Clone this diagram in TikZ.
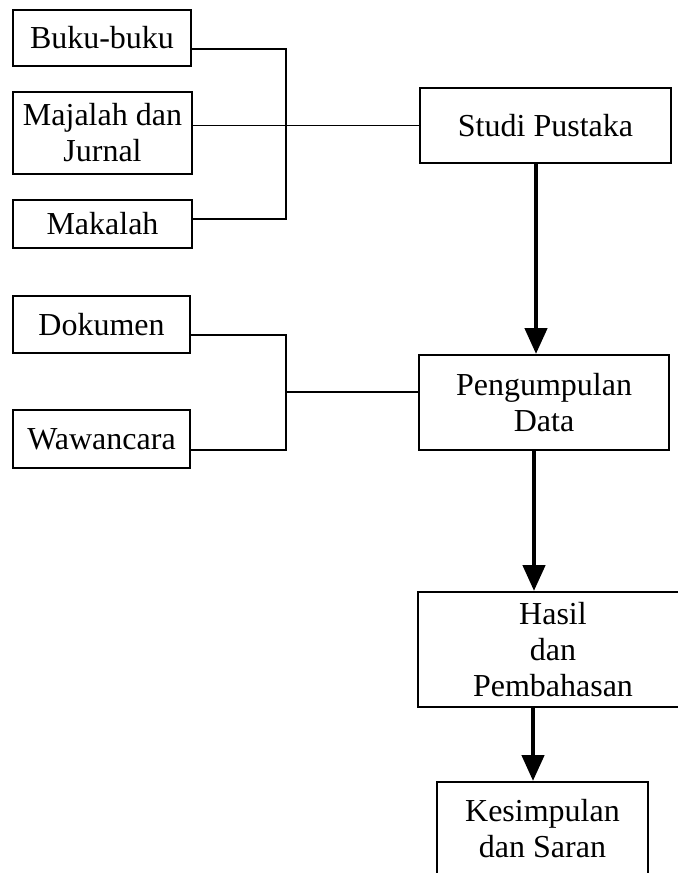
\documentclass[tikz,border=0pt]{standalone}
\usepackage{fontspec}
\setmainfont{Liberation Serif}
\usetikzlibrary{arrows.meta}

\begin{document}
\begin{tikzpicture}[x=0.5pt,y=-0.5pt,
    box/.style={draw,line width=1pt,align=center,inner sep=0pt,font=\fontsize{16}{18}\selectfont},
    link/.style={line width=0.8pt},
    flow/.style={line width=2.3pt,-{Triangle[width=11pt,length=13pt]}}]
  \useasboundingbox (0,0) rectangle (678,873);
  % sumber studi pustaka
  \node[box,minimum width=89pt,minimum height=28pt] (buku) at (102,38) {Buku-buku};
  \node[box,minimum width=89.5pt,minimum height=41pt] (majalah) at (102.5,133) {Majalah dan\\Jurnal};
  \node[box,minimum width=89.5pt,minimum height=24pt] (makalah) at (102.5,224) {Makalah};
  % sumber data
  \node[box,minimum width=88.5pt,minimum height=28.5pt] (dokumen) at (101.5,324.5) {Dokumen};
  \node[box,minimum width=88.5pt,minimum height=29pt] (wawancara) at (101.5,439) {Wawancara};
  % alur penelitian
  \node[box,minimum width=125.5pt,minimum height=37.5pt] (studi) at (545.5,125.5) {Studi Pustaka};
  \node[box,minimum width=125pt,minimum height=47.5pt] (pengumpulan) at (544,402.5) {Pengumpulan\\Data};
  \node[box,minimum width=135pt,minimum height=57.5pt] (hasil) at (553,649.5) {Hasil\\dan\\Pembahasan};
  \node[box,minimum width=105.5pt,minimum height=47pt] (kesimpulan) at (542.5,829) {Kesimpulan\\dan Saran};

  \coordinate (j1) at (286,125);
  \draw[link] ([yshift=-5.5pt]buku.east) -| (j1);
  \draw[link] ([yshift=2.5pt]makalah.east) -| (j1);
  \draw[link] (majalah.east |- studi.west) -- (studi.west);

  \coordinate (j2) at (286,392);
  \draw[link] ([yshift=-5.25pt]dokumen.east) -| (j2);
  \draw[link] ([yshift=-5.5pt]wawancara.east) -| (j2);
  \draw[link] (j2) -- ([yshift=5.25pt]pengumpulan.west);

  \draw[flow] ([xshift=-4.75pt]studi.south) -- ([xshift=-4pt]pengumpulan.north);
  \draw[flow] ([xshift=-5pt]pengumpulan.south) -- ([xshift=-9.5pt]hasil.north);
  \draw[flow] ([xshift=-10pt]hasil.south) -- ([xshift=-4.75pt]kesimpulan.north);
\end{tikzpicture}
\end{document}
